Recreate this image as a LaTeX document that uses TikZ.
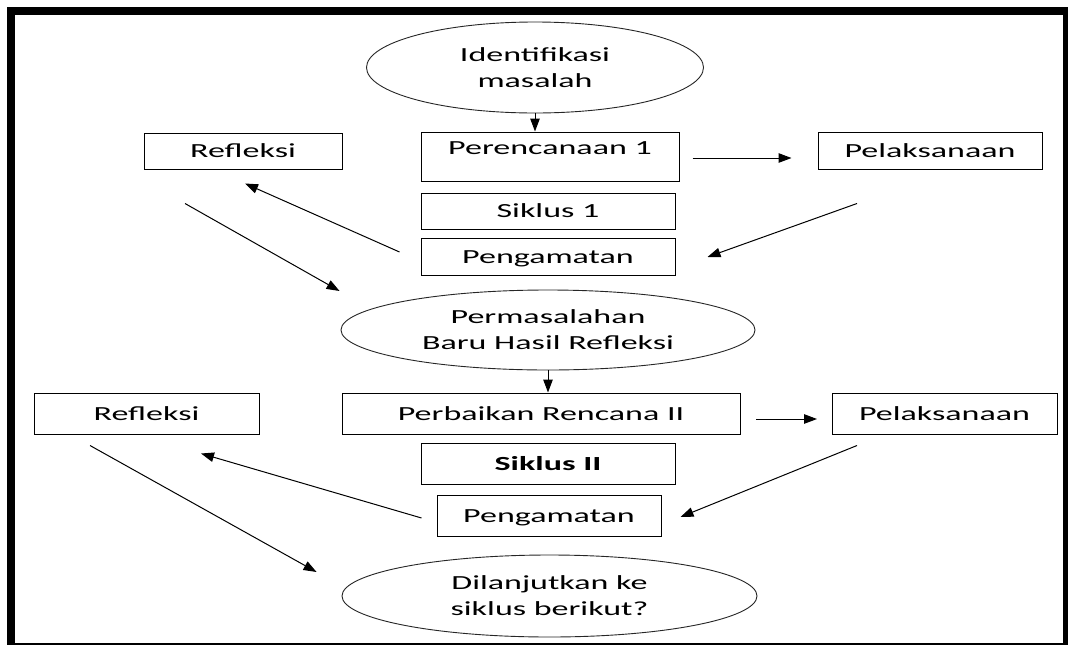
\documentclass[tikz,border=0pt]{standalone}
\usepackage{fontspec}
\setmainfont[FakeStretch=1.7]{Carlito}
\usetikzlibrary{shapes.geometric,arrows.meta}

\tikzset{
  box/.style={draw,line width=1pt,inner sep=0pt,text height=13pt,text depth=0pt},
  oval/.style={ellipse,draw=black!85,line width=0.9pt,inner sep=0pt,align=center},
  arr/.style={line width=1pt,-{Triangle[length=13pt,width=9.5pt]}}
}

\begin{document}
\begin{tikzpicture}[x=1pt,y=-1pt,font=\fontsize{20}{26}\selectfont]
\useasboundingbox (0,0) rectangle (1069,646);
\fill (7,7) rectangle (1068,645);
\fill[white] (15,15) rectangle (1063,643);

% siklus 1
\node[oval,minimum width=337pt,minimum height=91pt] (ident) at (535,67.5) {Identifikasi\\masalah};
\node[box,minimum width=258pt,minimum height=49pt,text depth=17pt] (renc1) at (550,156.5) {Perencanaan 1};
\node[box,minimum width=224pt,minimum height=37pt] (laks1) at (930,150.5) {Pelaksanaan};
\node[box,minimum width=198pt,minimum height=36pt] (refl1) at (243,151) {Refleksi};
\node[box,minimum width=254pt,minimum height=36pt] (sik1) at (548,211) {Siklus 1};
\node[box,minimum width=254pt,minimum height=37pt] (amat1) at (548,256.5) {Pengamatan};

\draw[arr] (ident.south) -- (ident.south |- renc1.north);
\draw[arr] ([xshift=13pt,yshift=-1.5pt]renc1.east) -- ([xshift=-26pt,yshift=-7.5pt]laks1.west);
\draw[arr] ([xshift=-73pt,yshift=-34pt]laks1.south) -- ([xshift=32pt,yshift=-0.5pt]amat1.east);
\draw[arr] ([xshift=-21pt,yshift=4.5pt]amat1.west) -- ([xshift=2pt,yshift=-14pt]refl1.south);

% siklus 2
\node[oval,minimum width=414pt,minimum height=80pt] (masalah) at (548,330) {Permasalahan\\Baru Hasil Refleksi};
\node[box,minimum width=398pt,minimum height=41pt] (renc2) at (541,413.5) {Perbaikan Rencana II};
\node[box,minimum width=225pt,minimum height=41pt] (laks2) at (944.5,413.5) {Pelaksanaan};
\node[box,minimum width=225pt,minimum height=41pt] (refl2) at (146.5,413.5) {Refleksi};
\node[box,minimum width=254pt,minimum height=41pt,font=\fontsize{20}{26}\selectfont\bfseries] (sik2) at (548,463.5) {Siklus II};
\node[box,minimum width=224pt,minimum height=41pt] (amat2) at (549,515.5) {Pengamatan};
\node[oval,minimum width=415pt,minimum height=82pt] (lanjut) at (549.5,596) {Dilanjutkan ke\\siklus berikut?};

\draw[arr] ([xshift=-58pt,yshift=-34pt]refl1.south) -- ([xshift=-1pt,yshift=39pt]masalah.west);
\draw[arr] (masalah.south) -- (masalah.south |- renc2.north);
\draw[arr] ([xshift=15.5pt,yshift=-5.5pt]renc2.east) -- ([xshift=-14.5pt,yshift=-5.5pt]laks2.west);
\draw[arr] ([xshift=-87.5pt,yshift=-11pt]laks2.south) -- ([xshift=19pt,yshift=-1.5pt]amat2.east);
\draw[arr] ([xshift=-15pt,yshift=-2.5pt]amat2.west) -- ([xshift=54.5pt,yshift=-19pt]refl2.south);
\draw[arr] ([xshift=-56.5pt,yshift=-11pt]refl2.south) -- ([xshift=-25pt,yshift=24pt]lanjut.west);
\end{tikzpicture}
\end{document}
